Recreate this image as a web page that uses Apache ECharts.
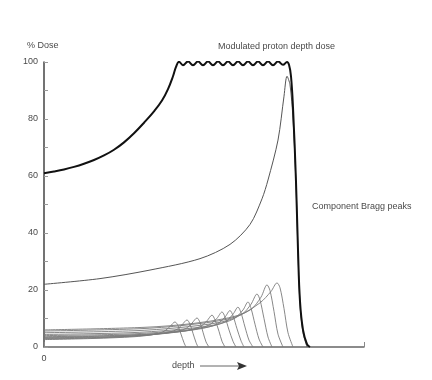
<!DOCTYPE html>
<html>
<head>
<meta charset="utf-8">
<script src="https://cdn.jsdelivr.net/npm/echarts@6/dist/echarts.min.js"></script>
<style>html,body{margin:0;padding:0;background:#fff}#c{width:432px;height:380px}</style>
</head>
<body>
<div id="c"></div>
<script>
// depth axis (arbitrary units), dose axis in %
var yTicks = [0, 20, 40, 60, 80, 100];
var xTickLabels = ['0'];

// Modulated (spread-out) proton depth dose
var sobp = [[0,61],[10,61.6],[20,62.3],[30,63.2],[40,64.3],[50,65.6],[60,67.2],[70,69.2],[80,71.8],[90,75],[100,78.7],
  [110,82.7],[118,86.5],[124,90.5],[129,95],[132,98.3],
  [135,100.1],[139,98.9],[144,100.2],[149,98.9],[154,100.2],[159,98.9],[164,100.2],[169,98.9],[174,100.2],[179,98.9],
  [184,100.2],[189,98.9],[194,100.2],[199,98.9],[204,100.2],[209,98.9],[214,100.2],[219,98.9],[224,100.2],[229,98.9],
  [234,100.2],[239,99.0],[243,100],[245,99],[247,95],[249,84],[252,58],[254,34],[256,16],[259,6],[263,1],[266,0]];

// deepest (full) Bragg peak
var peakMain = [[0,22],[56,24],[106,27],[156,31],[186,36],[206,43],[218,52],[224,58.6],[234,72.6],[240,88],[243,95],[246,92],[249,80],[252,57],[254,33],[256,15],[259,5],[263,0]];

// component Bragg peaks (shallow to deep)
var peakA = [[0,2.6],[50,3.0],[90,3.6],[110,4.4],[120,5.5],[126,7.2],[131,8.8],[134,7.5],[137,4.5],[140,1.5],[142,0]];
var peakB = [[0,2.8],[55,3.2],[95,3.9],[120,4.9],[132,6.0],[138,7.8],[143,9.5],[146,8.0],[149,4.8],[152,1.6],[154,0]];
var peakC = [[0,3.0],[60,3.4],[100,4.1],[128,5.2],[142,6.5],[148,8.4],[153,10.2],[156,8.6],[159,5.2],[162,1.8],[165,0]];
var peakD = [[0,3.2],[65,3.6],[110,4.4],[140,5.6],[156,7.1],[163,9.2],[168,11.2],[171,9.5],[175,5.5],[178,2.0],[181,0]];
var peakE = [[0,3.4],[70,3.9],[115,4.7],[148,6.0],[165,7.7],[173,10.1],[178,12.3],[181,10.5],[185,6.0],[189,2.0],[192,0]];
var peakF = [[0,3.6],[75,4.1],[120,4.9],[155,6.3],[173,8.0],[181,10.5],[186,12.8],[189,11.0],[193,6.4],[197,2.2],[200,0]];
var peakG = [[0,4.0],[80,4.5],[125,5.4],[162,6.9],[181,8.8],[189,11.5],[194,14],[197,12.0],[201,7.0],[205,2.4],[209,0]];
var peakH = [[0,4.4],[85,5.0],[130,6.0],[170,7.7],[190,9.9],[199,13.0],[204,15.8],[207,13.6],[211,8.0],[215,2.8],[219,0]];
var peakI = [[0,5.0],[90,5.7],[135,6.8],[178,8.8],[198,11.5],[207,15.0],[213,18.6],[216,16.5],[220,10.0],[224,3.5],[228,0]];
var peakJ = [[0,5.6],[95,6.4],[140,7.6],[185,9.9],[207,13.2],[217,17.5],[223,21.8],[226,19.8],[230,12.5],[234,4.5],[239,0]];
var peakK = [[0,6.0],[100,6.9],[150,8.3],[195,11.2],[216,15.5],[227,19.5],[233,22.5],[236,20.8],[240,13.5],[244,5.0],[249,0]];

var components = [peakA, peakB, peakC, peakD, peakE, peakF, peakG, peakH, peakI, peakJ, peakK];

var font = 'Liberation Sans, Arial, sans-serif';
var txtColor = '#4a4a4a';

var series = components.map(function (d) {
  return {type: 'line', data: d, showSymbol: false, smooth: 0.3, silent: true,
    lineStyle: {color: '#7a7a7a', width: 0.9}, z: 2};
});
series.push({type: 'line', data: peakMain, showSymbol: false, smooth: 0.3, silent: true,
  lineStyle: {color: '#555', width: 1}, z: 3});
series.push({type: 'line', data: sobp, showSymbol: false, smooth: 0.4, silent: true,
  lineStyle: {color: '#111', width: 2}, z: 4});

var chart = echarts.init(document.getElementById('c'));
chart.setOption({
  animation: false,
  backgroundColor: '#fff',
  grid: {left: 44, right: 68, top: 62, bottom: 33},
  xAxis: {
    type: 'value', min: 0, max: 320, interval: 320,
    axisLine: {lineStyle: {color: '#666', width: 1.5}},
    axisTick: {show: true, inside: true, length: 5, lineStyle: {color: '#888'}},
    splitLine: {show: false},
    axisLabel: {color: txtColor, fontFamily: font, fontSize: 9, margin: 7,
      formatter: function (v) { return v === 0 ? xTickLabels[0] : ''; }}
  },
  yAxis: {
    type: 'value', min: 0, max: 100, interval: 10,
    axisLine: {show: true, lineStyle: {color: '#444', width: 1.5}},
    axisTick: {show: true, inside: true, length: 4, lineStyle: {color: '#999'}},
    splitLine: {show: false},
    axisLabel: {color: txtColor, fontFamily: font, fontSize: 9, margin: 6,
      formatter: function (v) { return yTicks.indexOf(v) >= 0 ? String(v) : ''; }}
  },
  graphic: [
    {type: 'text', left: 27, top: 41, style: {text: '% Dose', fill: txtColor, font: '9px ' + font}},
    {type: 'text', left: 218, top: 42, style: {text: 'Modulated proton depth dose', fill: txtColor, font: '9px ' + font}},
    {type: 'text', left: 312, top: 202, style: {text: 'Component Bragg peaks', fill: txtColor, font: '9px ' + font}},
    {type: 'text', left: 172, top: 361, style: {text: 'depth', fill: txtColor, font: '9px ' + font}},
    {type: 'line', shape: {x1: 200, y1: 366, x2: 240, y2: 366}, style: {stroke: '#666', lineWidth: 1}},
    {type: 'polygon', shape: {points: [[237, 362], [247, 366], [237, 370], [239, 366]]}, style: {fill: '#333'}}
  ],
  series: series
});
</script>
</body>
</html>
